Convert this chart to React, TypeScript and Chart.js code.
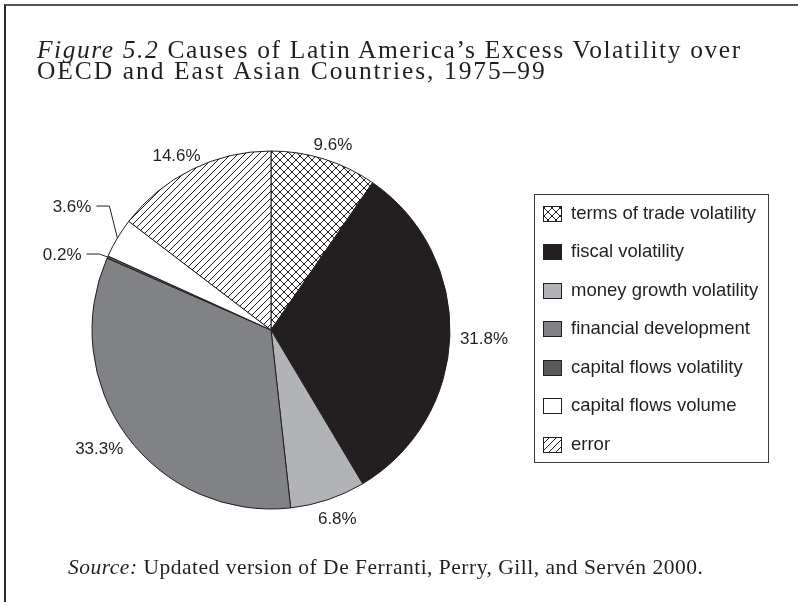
import React, { useEffect, useRef } from "react";
import { Chart, registerables } from "chart.js";

Chart.register(...registerables);

// ---------- data ----------
const categories = [
  "terms of trade volatility",
  "fiscal volatility",
  "money growth volatility",
  "financial development",
  "capital flows volatility",
  "capital flows volume",
  "error",
];
const shares = [9.6, 31.8, 6.8, 33.3, 0.2, 3.6, 14.6];
const fills = ["crosshatch", "#231f20", "#b1b3b6", "#808285", "#58595b", "#ffffff", "diagonal"];

const titleItalic = "Figure 5.2";
const titleLine1 = " Causes of Latin America\u2019s Excess Volatility over";
const titleLine2 = "OECD and East Asian Countries, 1975\u201399";
const sourceItalic = "Source:";
const sourceText = " Updated version of De Ferranti, Perry, Gill, and Serv\u00e9n 2000.";

const INK = "#231f20";
const SANS = '"Liberation Sans", Arial, Helvetica, sans-serif';
const SERIF = '"Liberation Serif", "Times New Roman", serif';

function makeFill(kind: string): string | CanvasPattern {
  if (kind.startsWith("#")) return kind;
  const size = kind === "crosshatch" ? 8 : 7;
  const c = document.createElement("canvas");
  c.width = size;
  c.height = size;
  const g = c.getContext("2d")!;
  g.fillStyle = "#ffffff";
  g.fillRect(0, 0, size, size);
  g.strokeStyle = INK;
  g.lineWidth = 1;
  g.beginPath();
  for (const k of [-size, 0, size]) {
    g.moveTo(k, size);
    g.lineTo(k + size, 0);
    if (kind === "crosshatch") {
      g.moveTo(k, 0);
      g.lineTo(k + size, size);
    }
  }
  g.stroke();
  return g.createPattern(c, "repeat") as CanvasPattern;
}

const sliceLabels = {
  id: "sliceLabels",
  afterDatasetsDraw(chart: any) {
    const ctx = chart.ctx as CanvasRenderingContext2D;
    const meta = chart.getDatasetMeta(0);
    const values: number[] = chart.data.datasets[0].data;
    ctx.save();
    ctx.font = `17px ${SANS}`;
    ctx.fillStyle = INK;
    ctx.strokeStyle = INK;
    ctx.lineWidth = 1;
    ctx.textBaseline = "middle";
    let prevSmallY: number | null = null;
    meta.data.forEach((arc: any, i: number) => {
      const { x, y, startAngle, endAngle, outerRadius } = arc.getProps(
        ["x", "y", "startAngle", "endAngle", "outerRadius"],
        true
      );
      const a = (startAngle + endAngle) / 2;
      const ca = Math.cos(a);
      const sa = Math.sin(a);
      const text = `${values[i].toFixed(1)}%`;
      const w = ctx.measureText(text).width;
      if (values[i] < 5) {
        const ex = x + outerRadius * ca;
        const ey = y + outerRadius * sa;
        const bx = ex - 8;
        let by = ey - 3;
        if (prevSmallY !== null) by = Math.min(by, prevSmallY - 48);
        prevSmallY = by;
        const hx = bx - 13;
        ctx.beginPath();
        ctx.moveTo(ex, ey);
        ctx.lineTo(bx, by);
        ctx.lineTo(hx, by);
        ctx.stroke();
        ctx.textAlign = "right";
        ctx.fillText(text, hx - 5, by + 1);
      } else {
        const r = outerRadius + 10;
        const tx = x + r * ca + (w / 2) * ca;
        const ty = y + r * sa + 8 * sa + 3;
        ctx.textAlign = "center";
        ctx.fillText(text, tx, ty);
      }
    });
    ctx.restore();
  },
};

const boxLegend = {
  id: "boxLegend",
  afterDraw(chart: any) {
    const ctx = chart.ctx as CanvasRenderingContext2D;
    const ds = chart.data.datasets[0];
    const labels: string[] = chart.data.labels;
    const left = 534;
    const top = 194;
    const width = 234;
    const height = 268;
    const rowY0 = 213;
    const rowGap = 38.5;
    ctx.save();
    ctx.strokeStyle = "#3a3a3a";
    ctx.lineWidth = 1;
    ctx.strokeRect(left + 0.5, top + 0.5, width, height);
    ctx.font = `18.5px ${SANS}`;
    ctx.textBaseline = "middle";
    ctx.textAlign = "left";
    labels.forEach((lab, i) => {
      const cy = rowY0 + i * rowGap;
      const sx = 543;
      const sy = Math.round(cy - 7.5);
      ctx.fillStyle = ds.backgroundColor[i];
      ctx.fillRect(sx, sy, 18, 15);
      ctx.strokeStyle = INK;
      ctx.strokeRect(sx + 0.5, sy + 0.5, 18, 15);
      ctx.fillStyle = INK;
      ctx.fillText(lab, 571, cy + 0.5);
    });
    ctx.restore();
  },
};

export default function App() {
  const ref = useRef<HTMLCanvasElement | null>(null);

  useEffect(() => {
    document.body.style.margin = "0";
    document.body.style.overflow = "hidden";
    const canvas = ref.current!;
    const chart = new Chart(canvas, {
      type: "pie",
      data: {
        labels: categories,
        datasets: [
          {
            data: shares,
            backgroundColor: fills.map(makeFill),
            borderColor: INK,
            borderWidth: 1,
            radius: 179,
          } as any,
        ],
      },
      options: {
        responsive: false,
        animation: false,
        devicePixelRatio: 1,
        layout: { padding: { left: 81, right: 337, top: 140, bottom: 82 } },
        plugins: {
          legend: { display: false },
          tooltip: { enabled: false },
        },
      } as any,
      plugins: [sliceLabels, boxLegend],
    });
    return () => chart.destroy();
  }, []);

  return (
    <div
      style={{
        position: "fixed",
        left: 0,
        top: 0,
        width: 798,
        height: 602,
        overflow: "hidden",
        background: "#ffffff",
      }}
    >
      <div
        style={{
          position: "absolute",
          left: 4,
          top: 4,
          width: 900,
          height: 800,
          borderTop: "2px solid #555555",
          borderLeft: "2px solid #2a2a2a",
        }}
      />
      <canvas
        ref={ref}
        width={798}
        height={602}
        style={{ position: "absolute", left: 0, top: 0, display: "block" }}
      />
      <div
        style={{
          position: "absolute",
          left: 37,
          top: 39,
          fontFamily: SERIF,
          fontSize: 25.5,
          lineHeight: "21px",
          letterSpacing: "1.5px",
          wordSpacing: "0.5px",
          color: INK,
          whiteSpace: "nowrap",
        }}
      >
        <div>
          <i>{titleItalic}</i>
          {titleLine1}
        </div>
        <div style={{ letterSpacing: "1.9px" }}>{titleLine2}</div>
      </div>
      <div
        style={{
          position: "absolute",
          left: 68,
          top: 556,
          fontFamily: SERIF,
          fontSize: 21.5,
          lineHeight: "22px",
          letterSpacing: "0.5px",
          color: INK,
          whiteSpace: "nowrap",
        }}
      >
        <i>{sourceItalic}</i>
        {sourceText}
      </div>
    </div>
  );
}
